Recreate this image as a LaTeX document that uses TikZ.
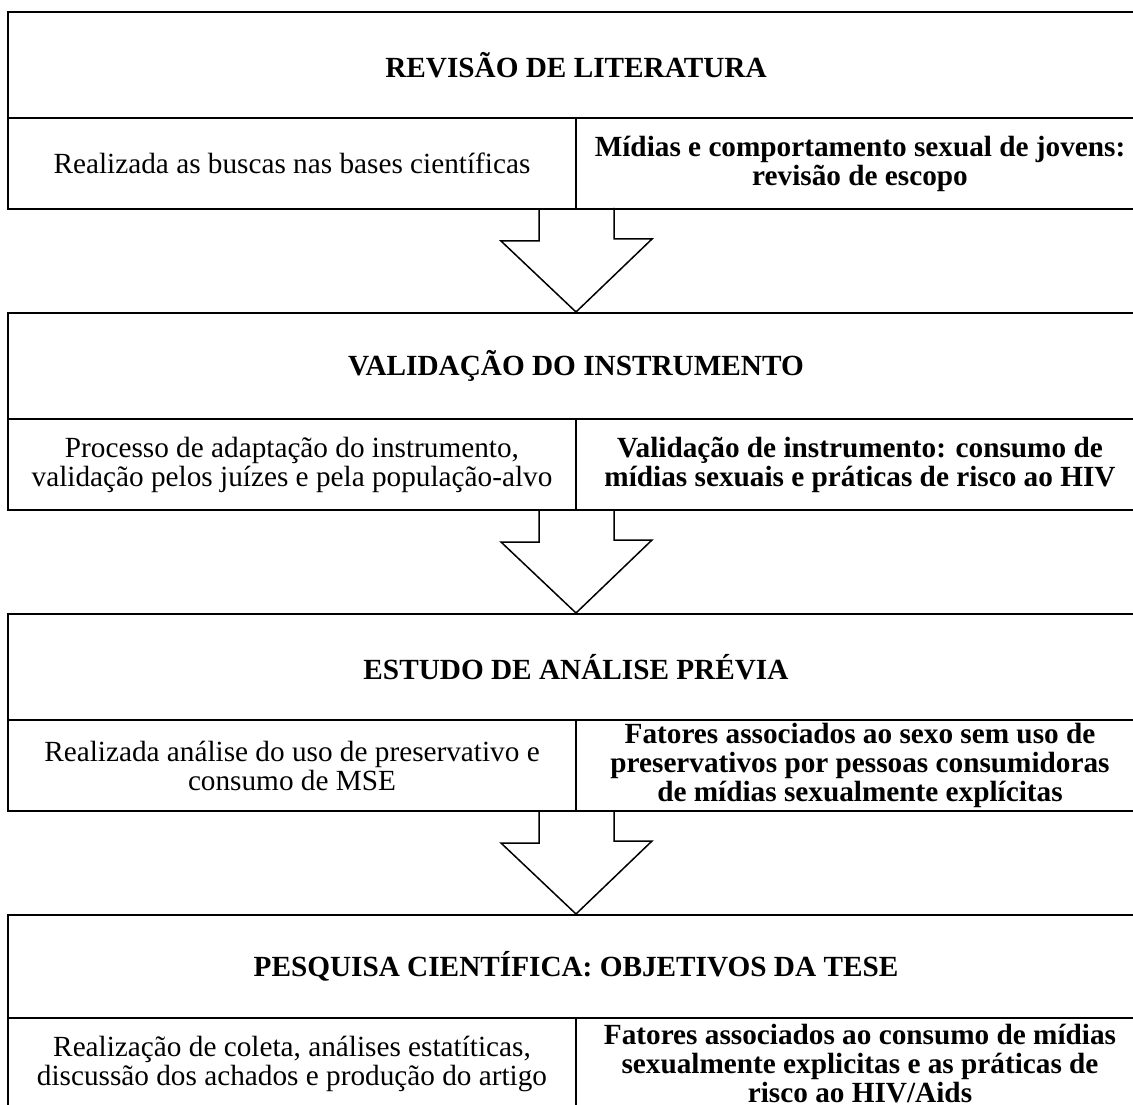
\documentclass[tikz,border=0pt]{standalone}
\usepackage{fontspec}
\setmainfont{Liberation Serif}
\begin{document}
\begin{tikzpicture}[
  x=0.4pt, y=-0.4pt,
  font=\fontsize{11.7}{11.6}\selectfont,
  stagebox/.style={draw, line width=0.8pt, inner sep=0pt, minimum width=454.4pt, minimum height=42.4pt, font=\fontsize{11.7}{11.6}\selectfont\bfseries},
  leftbox/.style={draw, line width=0.8pt, align=center, inner sep=0pt, minimum width=227.2pt, minimum height=36.4pt},
  rightbox/.style={leftbox, font=\fontsize{11.7}{11.6}\selectfont\bfseries},
  hollow/.style={draw, line width=0.6pt, line join=miter}
]
\useasboundingbox (0,0) rectangle (1133,1105);
\clip (0,0) rectangle (1133,1105);

% revisao
\node[stagebox] (rev) at (576,65) {REVISÃO DE LITERATURA};
\node[leftbox] (revL) at (292,163.5) {Realizada as buscas nas bases científicas};
\node[rightbox] (revR) at (860,163.5) {Mídias e comportamento sexual de jovens:\\revisão de escopo};

% validacao
\node[stagebox] (val) at (576,366) {VALIDAÇÃO DO INSTRUMENTO};
\node[leftbox] (valL) at (292,464.5) {Processo de adaptação do instrumento,\\validação pelos juízes e pela população-alvo};
\node[rightbox] (valR) at (860,464.5) {Validação de instrumento: consumo de\\mídias sexuais e práticas de risco ao HIV};

% estudo previo
\node[stagebox] (est) at (576,667) {ESTUDO DE ANÁLISE PRÉVIA};
\node[leftbox] (estL) at (292,765.5) {Realizada análise do uso de preservativo e\\consumo de MSE};
\node[rightbox] (estR) at (860,765.5) {Fatores associados ao sexo sem uso de\\preservativos por pessoas consumidoras\\de mídias sexualmente explícitas};

% pesquisa
\node[stagebox, minimum height=41.2pt] (pesq) at (576,966.5) {PESQUISA CIENTÍFICA: OBJETIVOS DA TESE};
\node[leftbox] (pesqL) at (292,1063.5) {Realização de coleta, análises estatíticas,\\discussão dos achados e produção do artigo};
\node[rightbox] (pesqR) at (860,1063.5) {Fatores associados ao consumo de mídias\\sexualmente explicitas e as práticas de\\risco ao HIV/Aids};

% setas
\draw[hollow] (revL.south east) ++(-38,0) -- ++(0,31) -- ++(-38,0) -- (val.north) -- ++(76,-73) -- ++(-38,0) -- ++(0,-31);
\draw[hollow] (valL.south east) ++(-38,0) -- ++(0,31) -- ++(-38,0) -- (est.north) -- ++(76,-73) -- ++(-38,0) -- ++(0,-31);
\draw[hollow] (estL.south east) ++(-38,0) -- ++(0,31) -- ++(-38,0) -- (pesq.north) -- ++(76,-73) -- ++(-38,0) -- ++(0,-31);
\end{tikzpicture}
\end{document}
